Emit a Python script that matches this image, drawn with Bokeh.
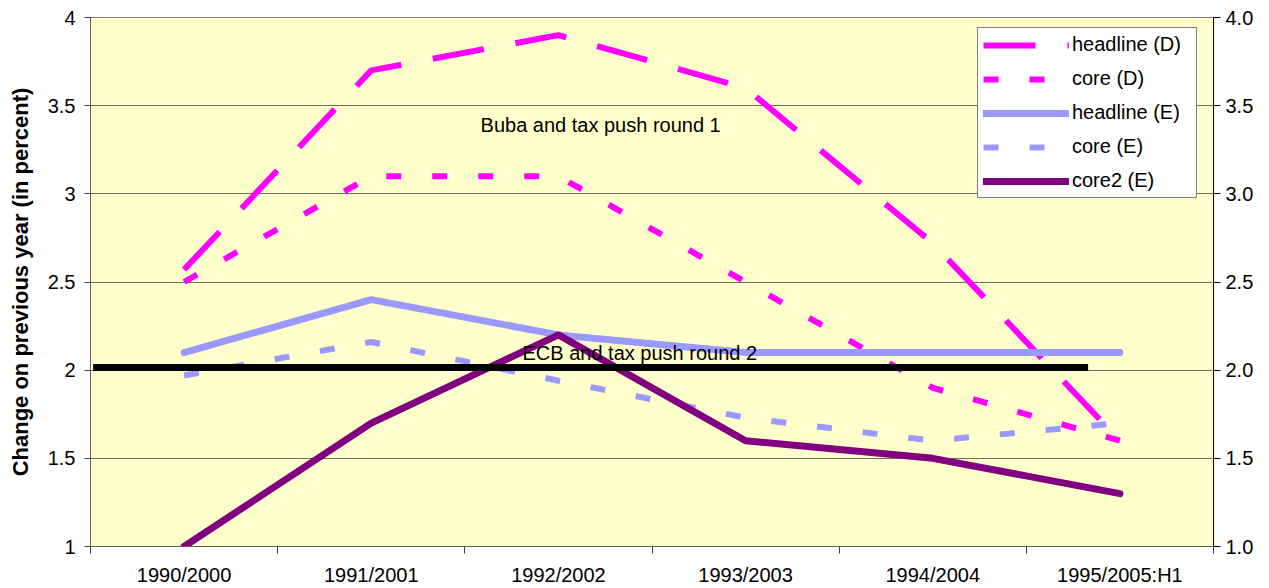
from bokeh.plotting import figure
from bokeh.models import (Range1d, FixedTicker, LinearAxis, Legend, LegendItem,
                          NumeralTickFormatter)
from bokeh.core.properties import value
from bokeh.embed import file_html
from bokeh.resources import INLINE
import numpy as np

categories = ["1990/2000", "1991/2001", "1992/2002", "1993/2003", "1994/2004", "1995/2005:H1"]
headline_D = [2.57, 3.70, 3.90, 3.60, 2.72, 1.60]
core_D = [2.50, 3.10, 3.10, 2.50, 1.90, 1.60]
headline_E = [2.10, 2.40, 2.20, 2.10, 2.10, 2.10]
core_E = [1.97, 2.16, 1.94, 1.73, 1.60, 1.70]
core2_E = [1.00, 1.70, 2.20, 1.60, 1.50, 1.30]

y_ticks = [1, 1.5, 2, 2.5, 3, 3.5, 4]
note1 = "Buba and tax push round 1"
note1_pos = (2.084, 3.388)
note2 = "ECB and tax push round 2"
note2_pos = (2.308, 2.10)
ref_line_x = [0.014, 5.33]
ref_line_y = [2.015, 2.015]

FONT = "Liberation Sans"
FS = "20px"
x = np.arange(len(categories)) + 0.5

p = figure(frame_width=1123, frame_height=529, output_backend="svg", toolbar_location=None,
           x_range=Range1d(0, len(categories)), y_range=Range1d(1, 4),
           min_border_left=90, min_border_right=50, min_border_top=17, min_border_bottom=40)
p.background_fill_color = "#FFFFCC"
p.border_fill_color = "white"
p.outline_line_color = "#808080"
p.xgrid.visible = False
p.ygrid.ticker = FixedTicker(ticks=y_ticks)
p.ygrid.grid_line_color = "#6E6E5E"
p.ygrid.grid_line_width = 1

# x axis
xa = p.xaxis[0]
xa.ticker = FixedTicker(ticks=list(x), minor_ticks=list(range(len(categories) + 1)))
xa.major_label_overrides = {float(v): c for v, c in zip(x, categories)}
xa.major_tick_out = 0
xa.major_tick_in = 0
xa.minor_tick_out = 7
xa.minor_tick_in = 0
xa.minor_tick_line_color = "#404040"
xa.axis_line_color = "#606060"
xa.major_label_standoff = 10
xa.major_label_text_font = FONT
xa.major_label_text_font_size = FS
xa.major_label_text_color = "black"

# left axis
ya = p.yaxis[0]
ya.ticker = FixedTicker(ticks=y_ticks)
ya.formatter = NumeralTickFormatter(format="0.[0]")
ya.minor_tick_line_color = None
ya.major_tick_out = 6
ya.major_tick_in = 0
ya.major_tick_line_color = "#404040"
ya.axis_line_color = "#606060"
ya.major_label_standoff = 9
ya.major_label_text_font = FONT
ya.major_label_text_font_size = FS
ya.major_label_text_color = "black"
ya.axis_label = "Change on previous year (in percent)"
ya.axis_label_text_font = FONT
ya.axis_label_text_font_style = "bold"
ya.axis_label_text_font_size = "22px"
ya.axis_label_text_color = "black"
ya.axis_label_standoff = 12

# right axis
ra = LinearAxis(ticker=FixedTicker(ticks=y_ticks), formatter=NumeralTickFormatter(format="0.0"))
ra.minor_tick_line_color = None
ra.major_tick_out = 7
ra.major_tick_in = 0
ra.major_tick_line_color = "black"
ra.axis_line_color = "black"
ra.major_label_standoff = 5
ra.major_label_text_font = FONT
ra.major_label_text_font_size = FS
ra.major_label_text_color = "black"
p.add_layout(ra, "right")

MAG = "#FF00FF"
LBL = "#9999FF"
PUR = "#800080"

r1 = p.line(x, headline_D, line_color=MAG, line_width=6, line_dash="52 32")
r2 = p.line(x, core_D, line_color=MAG, line_width=6, line_dash="15 31")
r3 = p.line(x, headline_E, line_color=LBL, line_width=7, line_cap="round", line_join="round")
r4 = p.line(x, core_E, line_color=LBL, line_width=6, line_dash="15 31")
r5 = p.line(x, core2_E, line_color=PUR, line_width=7, line_cap="round", line_join="round")

p.line(ref_line_x, ref_line_y, line_color="black", line_width=7)

p.text(x=[note1_pos[0]], y=[note1_pos[1]], text=[note1], text_font=value(FONT),
       text_font_size=FS, text_baseline="middle", text_align="left", text_color="black")
p.text(x=[note2_pos[0]], y=[note2_pos[1]], text=[note2], text_font=value(FONT),
       text_font_size=FS, text_baseline="middle", text_align="left", text_color="black")

legend = Legend(items=[
    LegendItem(label="headline (D)", renderers=[r1]),
    LegendItem(label="core (D)", renderers=[r2]),
    LegendItem(label="headline (E)", renderers=[r3]),
    LegendItem(label="core (E)", renderers=[r4]),
    LegendItem(label="core2 (E)", renderers=[r5]),
], location=(887, 348))
legend.label_text_font = FONT
legend.label_text_font_size = FS
legend.label_text_color = "black"
legend.glyph_width = 86
legend.glyph_height = 20
legend.label_height = 20
legend.label_width = 119
legend.label_standoff = 3
legend.spacing = 11
legend.padding = 5
legend.margin = 0
legend.border_line_color = "black"
legend.border_line_width = 1
legend.background_fill_color = "white"
legend.background_fill_alpha = 1
p.add_layout(legend, "center")

open("out.html", "w").write(file_html(p, INLINE))
